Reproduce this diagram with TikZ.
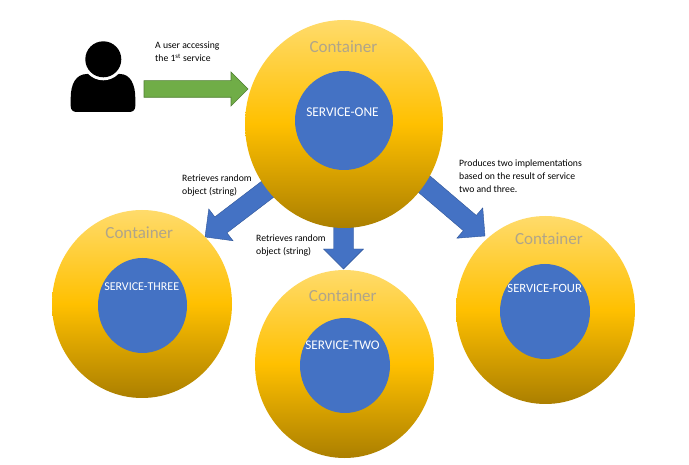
\documentclass[tikz,border=0pt]{standalone}
\usepackage{fontspec}
\setmainfont{Carlito}
\usetikzlibrary{calc,shapes.geometric}
\pgfdeclarelayer{background}
\pgfsetlayers{background,main}
\definecolor{svcblue}{HTML}{4472C4}
\definecolor{svcedge}{HTML}{2F5597}
\definecolor{usergreen}{HTML}{70AD47}
\definecolor{useredge}{HTML}{507E32}
\definecolor{goldtop}{HTML}{FFDB6B}
\definecolor{goldmid}{HTML}{FFC000}
\definecolor{goldbot}{HTML}{AB7F00}
\definecolor{contgray}{HTML}{B0A58A}
\begin{document}
\begin{tikzpicture}
[
x=1pt,y=-1pt,
container/.style={ellipse, draw=none, inner sep=0pt, top color=goldtop, bottom color=goldbot, middle color=goldmid},
service/.style={ellipse, draw=none, inner sep=0pt, fill=svcblue},
contlabel/.style={text=contgray, font=\fontsize{17}{19}\selectfont, inner sep=0pt},
svclabel/.style={text=white, font=\fontsize{#1}{15}\selectfont, inner sep=0pt},
note/.style={text=black, font=\fontsize{9.7}{13}\selectfont, align=left, anchor=north west, inner sep=0pt},
blockarrow/.style n args={3}{to path={
  -- ($(\tikztostart)!#1!90:(\tikztotarget)$)
  -- ($($(\tikztotarget)!#3!(\tikztostart)$)!#1!90:(\tikztotarget)$)
  -- ($($(\tikztotarget)!#3!(\tikztostart)$)!#2!90:(\tikztotarget)$)
  -- (\tikztotarget)
  -- ($($(\tikztotarget)!#3!(\tikztostart)$)!#2!-90:(\tikztotarget)$)
  -- ($($(\tikztotarget)!#3!(\tikztostart)$)!#1!-90:(\tikztotarget)$)
  -- ($(\tikztostart)!#1!-90:(\tikztotarget)$)
  -- cycle}},
bluearrow/.style={draw=svcedge, line width=0.4pt, fill=svcblue, blockarrow={10pt}{20pt}{20pt}},
greenarrow/.style={draw=useredge, line width=0.6pt, fill=usergreen, blockarrow={8.3pt}{17pt}{17pt}}
]
\useasboundingbox (0,0) rectangle (689,465);
% containers
\node (contone) [container, minimum width=198pt, minimum height=208pt] at (344,124) {};
\node (contthree) [container, minimum width=180pt, minimum height=188pt] at (142,304) {};
\node (conttwo) [container, minimum width=179pt, minimum height=188pt] at (344.5,364) {};
\node (contfour) [container, minimum width=179pt, minimum height=188pt] at (545.5,310) {};
% services
\node (one) [service, minimum width=98pt, minimum height=99pt] at (344,120.5) {};
\node (three) [service, minimum width=89pt, minimum height=95pt] at (142.5,305.5) {};
\node (two) [service, minimum width=90pt, minimum height=95pt] at (345,365.5) {};
\node (four) [service, minimum width=90pt, minimum height=95pt] at (545,311.5) {};
\node (contonelabel) [contlabel] at (343.5,47) {Container};
\node (contthreelabel) [contlabel] at (139.3,233) {Container};
\node (conttwolabel) [contlabel] at (342.8,296) {Container};
\node (contfourlabel) [contlabel] at (549,239) {Container};
\node (onelabel) [svclabel=13.4] at (342.5,112) {SERVICE-ONE};
\node (threelabel) [svclabel=12] at (141.7,287) {SERVICE-THREE};
\node (twolabel) [svclabel=13.2] at (342.5,345) {SERVICE-TWO};
\node (fourlabel) [svclabel=12.6] at (544.7,288) {SERVICE-FOUR};
% user
\node (userhead) [circle, fill=black, inner sep=0pt, minimum size=36pt] at (103.3,59.3) {};
\begin{pgfonlayer}{background}
\fill[black] (70.7,98) .. controls (70.7,84) and (76,74) .. (87,74) -- (120,74)
  .. controls (130,74) and (135.3,84) .. (135.3,98) -- (135.3,106)
  .. controls (135.3,110) and (133,112) .. (129,112) -- (77,112)
  .. controls (73,112) and (70.7,110) .. (70.7,106) -- cycle;
\fill[white] (userhead) circle (21pt);
\end{pgfonlayer}
\coordinate (userstart) at (144,89);
\coordinate (usertip) at (248,89);
\coordinate (threestart) at (285,176);
\coordinate (threetip) at (205,237);
\coordinate (twostart) at (343.5,210);
\coordinate (twotip) at (343.5,269);
\coordinate (fourstart) at (410,172);
\coordinate (fourtip) at (485,236);
\begin{pgfonlayer}{background}
\draw[greenarrow] (userstart) to (usertip);
\draw[bluearrow] (threestart) to (threetip);
\draw[bluearrow] (twostart) to (twotip);
\draw[bluearrow] (fourstart) to (fourtip);
\end{pgfonlayer}
\node (usernote) [note] at (155,42) {A user accessing\\the 1\textsuperscript{st} service};
\node (threenote) [note] at (182,175) {Retrieves random\\object (string)};
\node (twonote) [note] at (256,235) {Retrieves random\\object (string)};
\node (fournote) [note] at (459,160) {Produces two implementations\\based on the result of service\\two and three.};
\end{tikzpicture}
\end{document}
